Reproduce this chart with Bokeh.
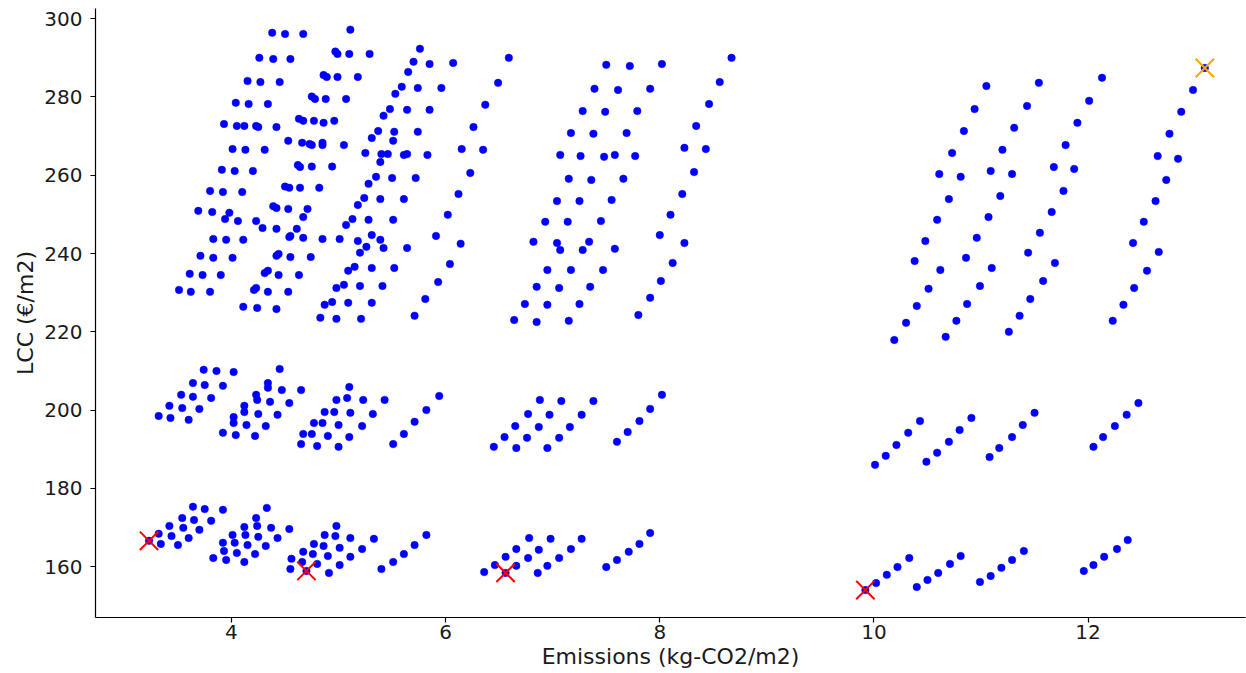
from bokeh.plotting import figure
from bokeh.models import FixedTicker, Range1d
from bokeh.embed import file_html
from bokeh.resources import INLINE

# ---- data: Emissions (kg-CO2/m2) vs LCC (EUR/m2) ----
top_left_x = [4.38, 4.50, 4.67, 4.26, 4.39, 4.55, 4.97, 4.99, 5.11, 5.10,
              5.29, 4.15, 4.27, 4.45, 4.86, 4.89, 4.99, 5.18, 4.04, 4.16,
              4.34, 4.75, 4.78, 4.88, 5.07, 3.93, 4.05, 4.12, 4.23, 4.25,
              4.42, 4.63, 4.67, 4.77, 4.86, 4.96, 4.01, 4.13, 4.31, 4.53,
              4.66, 4.73, 4.75, 4.85, 4.85, 5.05, 4.62, 4.64, 4.75, 4.94,
              3.91, 4.03, 4.20, 3.80, 3.92, 4.10, 4.50, 4.54, 4.64, 4.82,
              3.69, 3.82, 3.98, 3.94, 4.06, 4.23, 4.39, 4.42, 4.53, 4.71,
              4.67, 4.29, 4.42, 4.61, 3.83, 3.95, 4.11, 4.54, 4.55, 4.67,
              4.85, 5.01, 3.71, 3.83, 4.01, 4.42, 4.44, 4.55, 4.74, 3.61,
              3.73, 3.90, 4.31, 4.34, 4.44, 4.63, 3.51, 3.62, 3.80, 4.21,
              4.23, 4.34, 4.53, 4.98, 4.11, 4.24, 4.42, 4.87, 4.94, 4.83, 4.98]
top_left_y = [296.4, 296.1, 296.1, 290.0, 289.7, 289.7, 291.6, 291.0, 297.2, 291.0,
              291.0, 284.1, 283.8, 283.8, 285.6, 285.1, 285.1, 285.1, 278.5, 278.2,
              278.2, 280.1, 279.5, 279.5, 279.5, 273.1, 272.6, 272.6, 272.6, 272.3,
              272.3, 274.4, 273.9, 273.9, 273.4, 273.9, 266.7, 266.5, 266.5, 268.8,
              268.3, 268.0, 267.7, 268.3, 267.7, 267.7, 262.6, 262.1, 262.2, 262.2,
              261.4, 261.1, 261.1, 256.0, 255.7, 255.7, 257.1, 256.8, 256.8, 256.8,
              250.9, 250.6, 250.4, 248.8, 248.3, 248.3, 252.1, 251.6, 251.4, 251.4,
              249.3, 246.5, 246.3, 246.3, 243.7, 243.5, 243.5, 244.2, 244.5, 244.0,
              243.7, 243.7, 239.4, 238.9, 238.9, 239.4, 239.9, 239.1, 239.1, 234.8,
              234.5, 234.5, 235.0, 235.6, 234.5, 234.5, 230.7, 230.2, 230.2, 230.7,
              231.2, 230.2, 230.2, 231.2, 226.4, 226.1, 225.8, 226.9, 227.6, 223.6, 223.3]

top_mid_x = [5.76, 5.70, 5.85, 6.07, 6.59, 5.65, 5.59, 5.74, 5.96, 6.49,
             5.53, 5.48, 5.42, 5.64, 5.85, 6.37, 5.37, 5.31, 5.52, 5.51,
             5.74, 6.26, 5.25, 5.40, 5.46, 5.39, 5.61, 5.64, 5.83, 6.15,
             6.35, 5.35, 5.28, 5.50, 5.72, 6.23, 5.24, 5.18, 5.39, 5.61,
             6.12, 5.13, 5.07, 5.28, 5.51, 6.02, 5.18, 5.31, 5.39, 5.26,
             5.42, 5.20, 5.64, 5.91, 6.14, 5.15, 5.09, 5.31, 5.52, 6.04,
             5.05, 5.20, 5.41, 5.93, 5.09, 5.31, 5.81, 5.21, 5.71, 6.74, 6.64]
top_mid_y = [292.3, 289.0, 288.4, 288.7, 290.0, 286.4, 282.6, 282.3, 282.3, 283.6,
             280.8, 276.9, 275.2, 276.7, 276.7, 278.0, 271.3, 269.5, 271.1, 268.8,
             271.1, 272.3, 265.7, 265.4, 265.4, 263.4, 265.2, 265.4, 265.2, 266.7,
             266.5, 259.6, 257.8, 259.3, 259.3, 260.6, 254.2, 252.4, 253.9, 253.9,
             255.2, 248.8, 247.3, 248.6, 248.6, 249.9, 243.2, 244.7, 243.5, 241.7,
             241.4, 240.2, 241.4, 244.5, 242.5, 236.6, 235.6, 236.3, 236.3, 237.3,
             232.0, 231.7, 231.7, 232.7, 227.4, 227.4, 228.4, 223.3, 224.1, 227.1, 223.0]

top_right_x = [7.50, 7.72, 8.02, 7.39, 7.61, 7.91, 7.28, 7.49, 7.79, 7.17,
               7.38, 7.69, 7.07, 7.26, 7.48, 7.58, 7.77, 7.15, 7.36, 7.66,
               7.04, 7.25, 7.55, 6.93, 7.14, 7.45, 6.82, 7.04, 7.07, 7.28,
               7.34, 7.58, 6.95, 7.17, 7.47, 6.85, 7.06, 7.35, 6.95, 7.25,
               6.85, 7.15, 8.67, 8.56, 8.46, 8.34, 8.23, 8.43, 8.32, 8.21,
               8.10, 8.00, 8.23, 8.12, 8.01, 7.91, 7.80]
top_right_y = [288.2, 287.9, 288.4, 282.1, 281.8, 282.1, 276.4, 276.2, 276.4, 270.8,
               270.6, 270.8, 265.2, 264.9, 264.7, 265.2, 264.9, 259.1, 258.8, 259.1,
               253.4, 253.4, 253.7, 248.1, 248.1, 248.3, 243.0, 242.7, 240.9, 240.9,
               243.0, 241.2, 235.8, 235.8, 235.8, 231.5, 231.2, 231.5, 226.9, 227.1,
               222.5, 222.8, 290.0, 283.8, 278.2, 272.6, 267.0, 266.7, 260.8, 255.2,
               249.9, 244.7, 242.7, 237.6, 233.0, 228.7, 224.3]

top_far_x = [13.09, 12.98, 12.87, 12.76, 12.65, 12.84, 12.73, 12.63, 12.52, 12.42,
             12.66, 12.55, 12.43, 12.33, 12.23, 12.13, 12.01, 11.90, 11.79, 11.68,
             11.87, 11.77, 11.66, 11.55, 11.44, 11.69, 11.58, 11.46, 11.36, 11.26,
             11.54, 11.43, 11.31, 11.20, 11.09, 11.29, 11.18, 11.07, 10.96, 10.86,
             11.10, 10.99, 10.87, 10.77, 10.67, 11.05, 10.94, 10.84, 10.73, 10.61,
             10.81, 10.70, 10.59, 10.48, 10.38, 10.62, 10.51, 10.40, 10.30, 10.19]
top_far_y = [287.4, 281.8, 276.2, 270.6, 264.9, 264.2, 258.8, 253.4, 248.1, 242.7,
             240.4, 235.6, 231.2, 226.9, 222.8, 284.9, 279.0, 273.4, 267.7, 262.1,
             261.6, 256.0, 250.6, 245.3, 240.2, 237.6, 233.0, 228.4, 224.1, 220.0,
             283.6, 277.7, 272.1, 266.5, 261.1, 260.3, 254.7, 249.3, 244.0, 238.9,
             236.3, 231.7, 227.1, 222.8, 218.7, 282.8, 276.9, 271.3, 265.7, 260.3,
             259.6, 253.9, 248.6, 243.2, 238.1, 235.8, 231.0, 226.6, 222.3, 217.9]

mid_left_x = [3.74, 3.86, 4.02, 3.64, 3.75, 3.92, 3.53, 3.64, 3.81, 3.42,
              3.54, 3.70, 3.32, 3.43, 3.60, 4.45, 4.34, 4.34, 4.47, 4.65,
              4.23, 4.24, 4.36, 4.54, 4.12, 4.12, 4.25, 4.43, 4.02, 4.02,
              4.14, 4.32, 3.92, 4.04, 4.22, 5.10, 4.98, 5.08, 5.23, 5.43,
              4.87, 4.96, 5.11, 5.32, 4.77, 4.85, 5.00, 5.22, 4.67, 4.75,
              4.90, 5.10, 4.65, 4.80, 5.00, 5.94, 5.82, 5.71, 5.61, 5.51]
mid_left_y = [210.3, 210.0, 209.7, 206.9, 206.4, 206.2, 203.9, 203.4, 203.1, 201.1,
              200.5, 200.3, 198.5, 198.0, 197.5, 210.5, 206.9, 205.7, 205.1, 205.1,
              203.9, 202.6, 202.1, 201.8, 201.1, 199.5, 199.0, 198.8, 198.2, 196.7,
              196.2, 195.9, 194.2, 193.6, 193.4, 205.9, 202.6, 203.1, 202.6, 202.6,
              199.5, 199.5, 199.3, 199.0, 196.7, 196.7, 196.2, 195.9, 193.9, 193.9,
              193.4, 193.1, 191.3, 190.8, 190.6, 203.6, 200.0, 197.0, 193.9, 191.3]

mid_mid_x = [6.88, 7.08, 7.38, 6.77, 6.97, 7.27, 6.65, 6.87, 7.16, 6.55,
             6.76, 7.06, 6.45, 6.66, 6.95, 8.02, 7.91, 7.81, 7.70, 7.60]
mid_mid_y = [202.6, 202.3, 202.3, 199.0, 198.8, 198.8, 195.9, 195.7, 195.7, 193.1,
             192.9, 192.9, 190.6, 190.3, 190.3, 203.9, 200.3, 197.2, 194.4, 191.9]

mid_far_x = [10.43, 10.32, 10.21, 10.11, 10.01, 10.91, 10.80, 10.70, 10.59, 10.49,
             11.50, 11.39, 11.29, 11.17, 11.08, 12.47, 12.36, 12.25, 12.14, 12.05]
mid_far_y = [197.2, 194.2, 191.1, 188.3, 186.0, 198.0, 194.9, 191.9, 189.1, 186.8,
             199.3, 196.2, 193.1, 190.3, 188.0, 201.8, 198.8, 195.9, 193.1, 190.6]

bot_left_x = [3.23, 3.64, 3.75, 3.92, 3.54, 3.65, 3.81, 3.42, 3.55, 3.70,
              3.32, 3.44, 3.60, 3.34, 3.50, 4.33, 4.23, 4.12, 4.24, 4.37,
              4.54, 4.01, 4.13, 4.25, 4.43, 3.92, 4.03, 4.15, 4.32, 3.93,
              4.05, 4.22, 3.83, 3.95, 4.12, 4.98, 4.87, 4.97, 5.11, 5.33,
              4.77, 4.86, 5.01, 5.22, 4.67, 4.76, 4.90, 5.11, 4.56, 4.66,
              4.80, 5.01, 4.55, 4.70, 4.91, 5.82, 5.71, 5.61, 5.51, 5.40]
bot_left_y = [166.6, 175.3, 174.7, 174.5, 172.4, 171.9, 171.7, 170.4, 169.9, 169.4,
              168.4, 167.8, 167.3, 165.8, 165.5, 175.0, 172.4, 170.1, 170.4, 169.9,
              169.6, 168.1, 168.1, 167.6, 167.3, 166.1, 166.1, 165.5, 165.3, 164.0,
              163.5, 163.2, 162.2, 161.7, 161.2, 170.4, 168.1, 167.8, 167.3, 167.1,
              165.8, 165.3, 164.8, 164.5, 163.8, 163.2, 162.7, 162.5, 162.0, 161.2,
              160.7, 160.4, 159.4, 158.9, 158.4, 168.1, 165.5, 163.2, 161.2, 159.4]

bot_mid_x = [6.78, 6.98, 7.27, 6.66, 6.87, 7.17, 6.56, 6.77, 7.06, 6.46,
             6.66, 6.95, 6.36, 6.56, 6.86, 7.91, 7.81, 7.71, 7.60, 7.50]
bot_mid_y = [167.3, 167.1, 167.1, 164.5, 164.3, 164.5, 162.5, 162.2, 162.2, 160.4,
             160.2, 160.2, 158.6, 158.4, 158.4, 168.6, 165.8, 163.8, 161.7, 159.9]

bot_far_x = [9.92, 10.02, 10.12, 10.22, 10.33, 10.40, 10.50, 10.60, 10.71, 10.81,
             10.99, 11.09, 11.19, 11.29, 11.40, 11.96, 12.05, 12.15, 12.27, 12.37]
bot_far_y = [154.0, 155.8, 157.9, 159.9, 162.2, 154.8, 156.6, 158.4, 160.7, 162.7,
             156.1, 157.6, 159.7, 161.7, 164.0, 158.9, 160.4, 162.5, 164.5, 166.8]

# highlighted solutions
marked_x = [3.23, 4.70, 6.56, 9.92]
marked_y = [166.6, 158.9, 158.4, 154.0]
best_x = [13.09]
best_y = [287.4]

x_ticks = [4, 6, 8, 10, 12]
y_ticks = [160, 180, 200, 220, 240, 260, 280, 300]

all_x = (top_left_x + top_mid_x + top_right_x + top_far_x + mid_left_x +
         mid_mid_x + mid_far_x + bot_left_x + bot_mid_x + bot_far_x)
all_y = (top_left_y + top_mid_y + top_right_y + top_far_y + mid_left_y +
         mid_mid_y + mid_far_y + bot_left_y + bot_mid_y + bot_far_y)

FONT = "DejaVu Sans"

p = figure(width=1246, height=673, output_backend="svg", toolbar_location=None,
           x_range=Range1d(2.73, 13.47), y_range=Range1d(147.0, 302.6),
           min_border_left=95, min_border_right=1, min_border_top=8,
           min_border_bottom=56)
p.background_fill_color = "white"
p.border_fill_color = "white"
p.outline_line_color = None
p.xgrid.visible = False
p.ygrid.visible = False

p.xaxis.ticker = FixedTicker(ticks=x_ticks)
p.yaxis.ticker = FixedTicker(ticks=y_ticks)
p.xaxis.axis_label = "Emissions (kg-CO2/m2)"
p.yaxis.axis_label = "LCC (€/m2)"
for ax in (p.xaxis[0], p.yaxis[0]):
    ax.major_tick_out = 5
    ax.major_tick_in = 0
    ax.minor_tick_out = 0
    ax.minor_tick_in = 0
    ax.axis_line_color = "black"
    ax.axis_line_width = 1.2
    ax.major_tick_line_color = "black"
    ax.major_tick_line_width = 1.2
    ax.major_label_text_font = FONT
    ax.major_label_text_font_size = "20px"
    ax.major_label_text_color = "#1a1a1a"
    ax.axis_label_text_font = FONT
    ax.axis_label_text_font_size = "22px"
    ax.axis_label_text_font_style = "normal"
    ax.axis_label_text_color = "#1a1a1a"

p.xaxis[0].major_label_standoff = 2
p.xaxis[0].axis_label_standoff = 2
p.yaxis[0].major_label_standoff = 8
p.yaxis[0].axis_label_standoff = 3

p.scatter(all_x, all_y, size=7.5, fill_color="blue", line_color="blue", line_width=0.5)
p.scatter(marked_x, marked_y, marker="x", size=26, line_color="red", line_width=2)
p.scatter(best_x, best_y, marker="x", size=26, line_color="orange", line_width=2)

open("out.html", "w").write(file_html(p, INLINE))
